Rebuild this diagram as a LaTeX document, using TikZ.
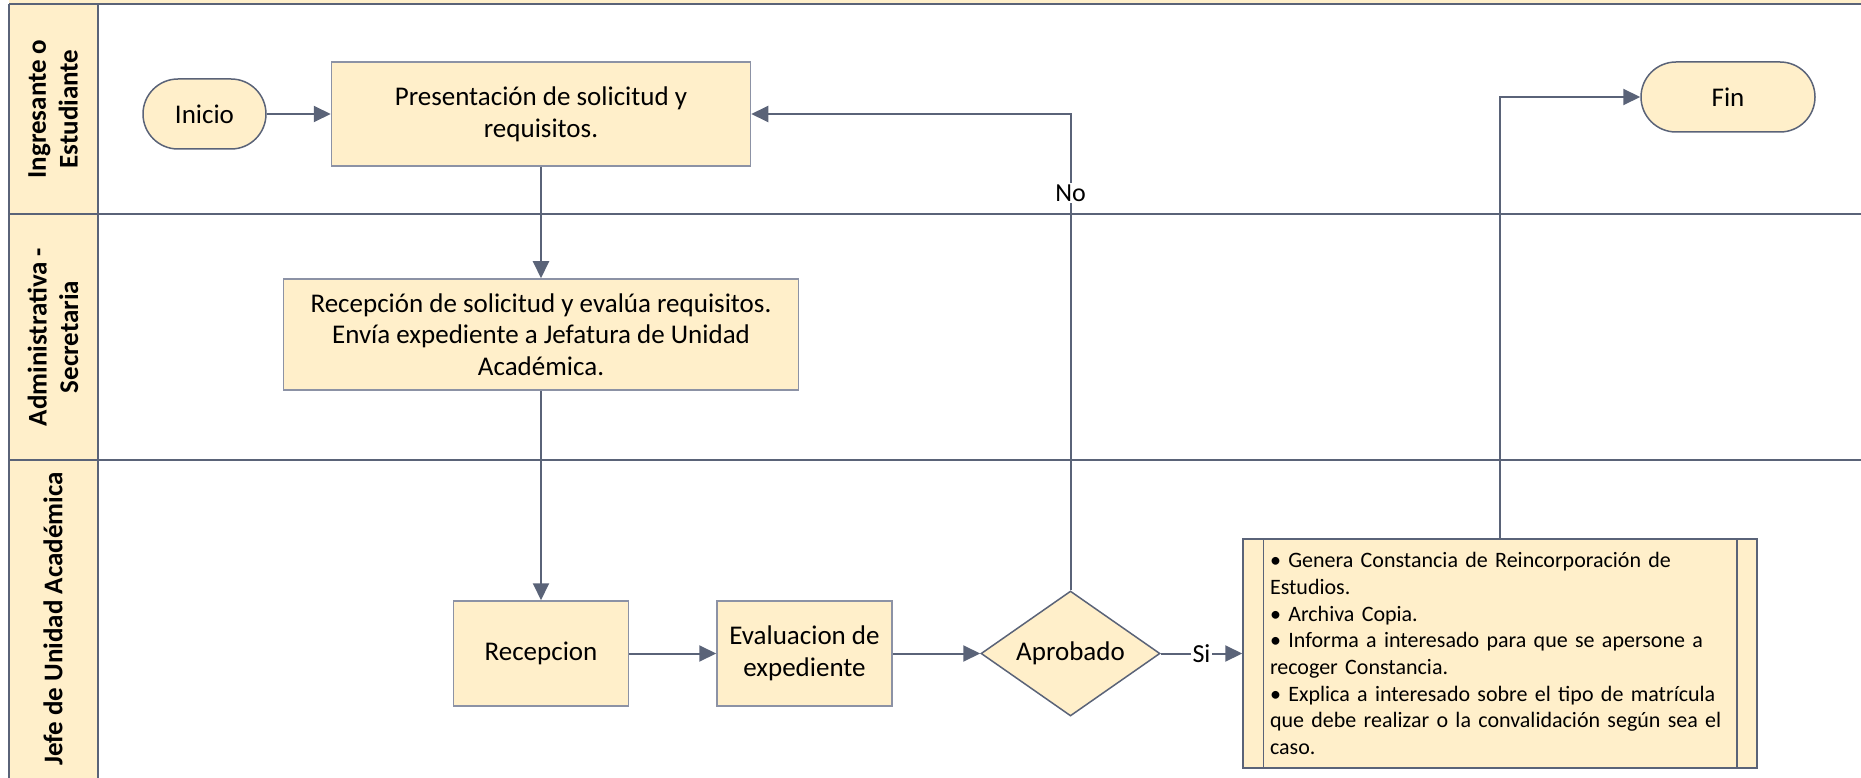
\documentclass[tikz,border=0pt]{standalone}
\usepackage{fontspec}
\setmainfont{Carlito}
\usetikzlibrary{shapes.geometric, arrows.meta, positioning}
\definecolor{lanefill}{RGB}{255,239,202}
\definecolor{flowline}{RGB}{90,99,120}
\definecolor{boxgray}{RGB}{140,146,165}

\begin{document}
\begin{tikzpicture}[x=1pt, y=-1pt,
    box/.style={draw=boxgray, line width=1.5pt, fill=lanefill, align=center,
        inner sep=0pt, font=\fontsize{27}{31.7}\selectfont},
    term/.style={box, draw=flowline, rounded corners=35pt, minimum height=70pt},
    decide/.style={box, draw=flowline, diamond, aspect=1.43,
        minimum width=179pt, minimum height=125pt},
    flow/.style={draw=flowline, line width=2pt, -{Triangle[length=17pt,width=16pt]}},
    lanehead/.style={rotate=90, align=center, font=\bfseries\fontsize{27}{31.7}\selectfont},
    tag/.style={fill=white, inner sep=1.5pt, font=\fontsize{26}{30}\selectfont}]
\useasboundingbox (0,0) rectangle (1861,778);

% lanes
\fill[lanefill] (9,0) rectangle (1861,4);
\fill[lanefill] (9,4) rectangle (98,778);
\foreach \y in {4,214,460}
    \draw[flowline, line width=2pt] (9,\y) -- (1861,\y);
\foreach \x in {9,98}
    \draw[flowline, line width=2pt] (\x,4) -- (\x,778);

\foreach \y/\t/\n in {
    109/{Ingresante o\\Estudiante}/lane1,
    337/{Administrativa -\\Secretaria}/lane2,
    619/{Jefe de Unidad Académica}/lane3}
    \node[lanehead] (\n) at (53,\y) {\t};

% steps
\node[term, minimum width=123pt] (inicio) at (204.5,114) {Inicio};
\node[box, minimum width=419pt, minimum height=104pt] (pres) at (541,114)
    {Presentación de solicitud y\\requisitos.};
\node[box, minimum width=515pt, minimum height=111pt] (recsol) at (541,334.5)
    {Recepción de solicitud y evalúa requisitos.\\Envía expediente a Jefatura de Unidad\\Académica.};
\node[box, minimum width=175pt, minimum height=105pt] (recep) at (541,653.5) {Recepcion};
\node[box, minimum width=175pt, minimum height=105pt] (evalua) at (804.5,653.5)
    {Evaluacion de\\expediente};
\node[decide] (aprob) at (1070.5,653.5) {Aprobado};
\node[box, draw=flowline, minimum width=514pt, minimum height=229pt, text width=460pt,
    inner xsep=27pt, align=left, font=\fontsize{22}{26.7}\selectfont] (archiva) at (1500,653.5)
    {• Genera Constancia de Reincorporación de\\
     Estudios.\\
     • Archiva Copia.\\
     • Informa a interesado para que se apersone a\\
     recoger Constancia.\\
     • Explica a interesado sobre el tipo de matrícula\\
     que debe realizar o la convalidación según sea el\\
     caso.};
\draw[flowline, line width=1.5pt] ([xshift=21pt]archiva.north west) -- ([xshift=21pt]archiva.south west);
\draw[flowline, line width=1.5pt] ([xshift=-21pt]archiva.north east) -- ([xshift=-21pt]archiva.south east);
\node[term, minimum width=174pt] (fin) at (1728,97) {Fin};

% connectors
\draw[flow] (inicio) -- (pres);
\draw[flow] (pres) -- (recsol);
\draw[flow] (recsol) -- (recep);
\draw[flow] (recep) -- (evalua);
\draw[flow] (evalua) -- (aprob);
\draw[flow] (aprob) -- node[tag] (si) {Si} (archiva);
\draw[flow] (aprob.north) |- node[tag, pos=0.417] (no) {No} (pres.east);
\draw[flow] (archiva.north) |- (fin.west);

\end{tikzpicture}
\end{document}
